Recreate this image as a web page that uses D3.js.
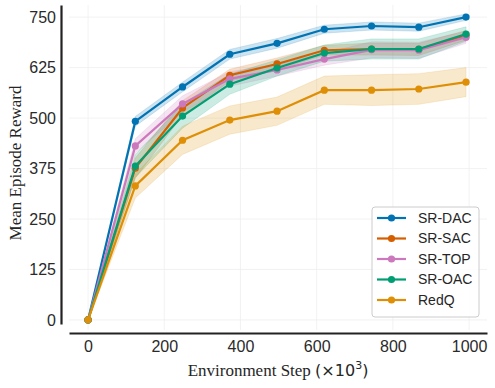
<!DOCTYPE html>
<html>
<head>
<meta charset="utf-8">
<script src="https://cdn.jsdelivr.net/npm/d3@7"></script>
<style>
  body { margin: 0; background: #fff; }
  svg { display: block; }
</style>
</head>
<body>
<div id="container"></div>
<script>
let w = 495;
let h = 388;

// data
let steps = [0, 124, 248, 372, 496, 620, 744, 868, 992];
let names = ["SR-DAC", "SR-SAC", "SR-TOP", "SR-OAC", "RedQ"];
let colors = ["#0173b2", "#d55e00", "#cc78bc", "#029e73", "#de8f05"];
let dacMean = [0, 492, 577, 658, 685, 720, 728, 725, 750];
let sacMean = [0, 376, 525, 606, 634, 668, 671, 670, 705];
let topMean = [0, 431, 535, 597, 619, 646, 669, 668, 700];
let oacMean = [0, 381, 505, 584, 624, 661, 671, 671, 708];
let redqMean = [0, 332, 445, 495, 517, 569, 569, 572, 589];
let dacStd = [0, 12, 12, 12, 12, 10, 10, 10, 8];
let sacStd = [0, 25, 18, 15, 15, 12, 15, 15, 12];
let topStd = [0, 18, 20, 18, 15, 15, 20, 20, 15];
let oacStd = [0, 28, 30, 25, 20, 20, 25, 25, 18];
let redqStd = [0, 30, 35, 35, 35, 35, 38, 38, 36];
let xTicks = [0, 200, 400, 600, 800, 1000];
let yTicks = [0, 125, 250, 375, 500, 625, 750];

let means = [dacMean, sacMean, topMean, oacMean, redqMean];
let stds = [dacStd, sacStd, topStd, oacStd, redqStd];

let series = names.map(function(n, i){
  return {
    name: n,
    color: colors[i],
    values: steps.map(function(s, j){
      return {x: s, y: means[i][j], sd: stds[i][j]};
    })
  };
});

let viz = d3.select("#container")
  .append("svg")
    .attr("width", w)
    .attr("height", h)
;

let xScale = d3.scaleLinear().domain([-50, 1047]).range([69, 487]);
let yScale = d3.scaleLinear().domain([-10, 780]).range([324, 5]);

// grid
let grid = viz.append("g").classed("grid", true);
grid.selectAll(".vgrid").data(xTicks).enter().append("line")
  .attr("x1", d => xScale(d)).attr("x2", d => xScale(d))
  .attr("y1", 5).attr("y2", 330)
  .attr("stroke", "#efefef").attr("stroke-width", 0.8);
grid.selectAll(".hgrid").data(yTicks).enter().append("line")
  .attr("x1", 69).attr("x2", 487)
  .attr("y1", d => yScale(d)).attr("y2", d => yScale(d))
  .attr("stroke", "#efefef").attr("stroke-width", 0.8);

// axes
let xAxis = d3.axisBottom(xScale).tickValues(xTicks).tickFormat(d3.format("d")).tickSize(0).tickPadding(8);
let xAxisGroup = viz.append("g").attr("transform", "translate(0,333)").call(xAxis);
let yAxis = d3.axisLeft(yScale).tickValues(yTicks).tickFormat(d3.format("d")).tickSize(0).tickPadding(5);
let yAxisGroup = viz.append("g").attr("transform", "translate(61,0)").call(yAxis);

[xAxisGroup, yAxisGroup].forEach(function(g){
  g.select(".domain").attr("stroke", "#222").attr("stroke-width", 2.2);
  g.selectAll("text")
    .attr("font-family", "'Liberation Sans', Arial, sans-serif")
    .attr("font-size", 16)
    .attr("fill", "#2a2a2a");
});

// bands, lines, markers
let area = d3.area()
  .x(d => xScale(d.x))
  .y0(d => yScale(d.y - d.sd))
  .y1(d => yScale(d.y + d.sd));
let line = d3.line().x(d => xScale(d.x)).y(d => yScale(d.y));

let graphGroup = viz.append("g").classed("graphGroup", true);
series.forEach(function(s){
  graphGroup.append("path")
    .datum(s.values)
    .attr("d", area)
    .attr("fill", s.color)
    .attr("fill-opacity", 0.2)
    .attr("stroke", s.color)
    .attr("stroke-opacity", 0.15);
});
series.forEach(function(s){
  let g = graphGroup.append("g");
  g.append("path")
    .datum(s.values)
    .attr("d", line)
    .attr("fill", "none")
    .attr("stroke", s.color)
    .attr("stroke-width", 2.2);
  g.selectAll("circle").data(s.values).enter().append("circle")
    .attr("cx", d => xScale(d.x))
    .attr("cy", d => yScale(d.y))
    .attr("r", 3.6)
    .attr("fill", s.color);
});

// axis titles
viz.append("text")
  .attr("x", 278).attr("y", 376)
  .attr("text-anchor", "middle")
  .attr("fill", "#262626")
  .attr("font-family", "'Liberation Serif', 'Times New Roman', serif")
  .attr("font-size", 17)
  .html("Environment Step <tspan font-family=\"'DejaVu Sans', sans-serif\" font-size=\"16\">(×10</tspan><tspan font-family=\"'DejaVu Sans', sans-serif\" font-size=\"11\" dy=\"-7\">3</tspan><tspan font-family=\"'DejaVu Sans', sans-serif\" font-size=\"16\" dy=\"7\">)</tspan>");

viz.append("text")
  .attr("transform", "translate(21,163) rotate(-90)")
  .attr("text-anchor", "middle")
  .attr("fill", "#262626")
  .attr("font-family", "'Liberation Serif', 'Times New Roman', serif")
  .attr("font-size", 17)
  .text("Mean Episode Reward");

// legend
let legend = viz.append("g").attr("transform", "translate(372,207)");
legend.append("rect")
  .attr("width", 107).attr("height", 110)
  .attr("rx", 3)
  .attr("fill", "#fff").attr("fill-opacity", 0.85)
  .attr("stroke", "#cccccc").attr("stroke-width", 1);
let items = legend.selectAll(".item").data(series).enter().append("g")
  .attr("transform", (d, i) => "translate(0," + (11 + i * 20.5) + ")");
items.append("line")
  .attr("x1", 5).attr("x2", 34)
  .attr("stroke", d => d.color).attr("stroke-width", 2.2);
items.append("circle")
  .attr("cx", 19.5).attr("r", 3.6).attr("fill", d => d.color);
items.append("text")
  .attr("x", 46).attr("dy", "0.35em")
  .attr("font-family", "'Liberation Sans', Arial, sans-serif")
  .attr("font-size", 14)
  .attr("fill", "#262626")
  .text(d => d.name);
</script>
</body>
</html>
